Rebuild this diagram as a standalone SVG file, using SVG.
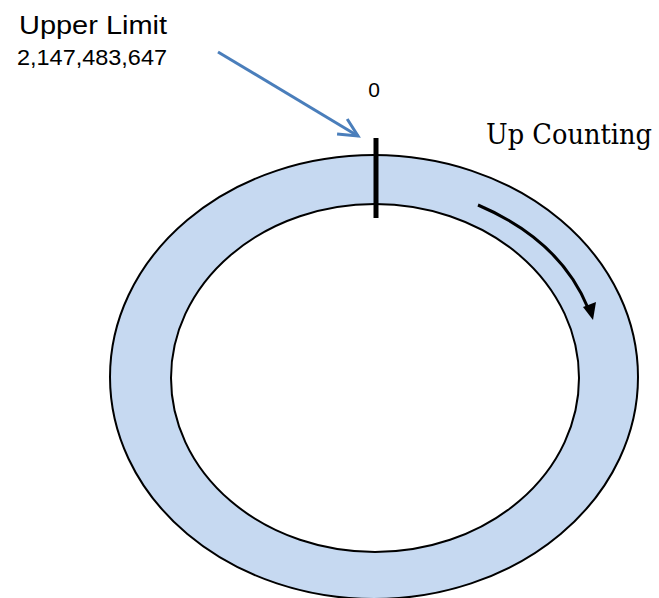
<svg xmlns="http://www.w3.org/2000/svg" width="659" height="598" viewBox="0 0 659 598">
<defs>
<style>
.ring{fill:#c6d9f1;stroke:#000;stroke-width:2}
.hole{fill:#fff;stroke:#000;stroke-width:2}
.sans{font-family:"Liberation Sans",Arial,sans-serif;fill:#000}
.serif{font-family:"DejaVu Serif","Liberation Serif",serif;fill:#000}
</style>
<marker id="vhead" markerWidth="20" markerHeight="20" refX="0" refY="0" orient="auto" markerUnits="userSpaceOnUse" overflow="visible">
<path d="M-18,-9 L0,0 L-19,9" fill="none" stroke="#4a7ebb" stroke-width="3" stroke-linejoin="miter"/>
</marker>
</defs>
<g id="ring">
<ellipse class="ring" cx="374" cy="377" rx="264" ry="222"/>
<ellipse class="hole" cx="375" cy="378" rx="204" ry="174"/>
</g>
<g id="zero-tick">
<line x1="376" y1="138" x2="376" y2="218" stroke="#000" stroke-width="5"/>
</g>
<g id="labels">
<text class="sans" x="19" y="34" font-size="25" textLength="148" lengthAdjust="spacingAndGlyphs">Upper Limit</text>
<text class="sans" x="17" y="65" font-size="22" textLength="150" lengthAdjust="spacingAndGlyphs">2,147,483,647</text>
<text class="sans" x="374" y="97" font-size="21" text-anchor="middle">0</text>
<text class="serif" x="486" y="144" font-size="27" textLength="166" lengthAdjust="spacingAndGlyphs">Up Counting</text>
</g>
<g id="connectors">
<line x1="218" y1="52" x2="358" y2="136" stroke="#4a7ebb" stroke-width="3" marker-end="url(#vhead)"/>
<path d="M478,205 Q560,240 588,308" fill="none" stroke="#000" stroke-width="3"/>
<polygon points="583,307 596,302 593,320" fill="#000"/>
</g>
</svg>
